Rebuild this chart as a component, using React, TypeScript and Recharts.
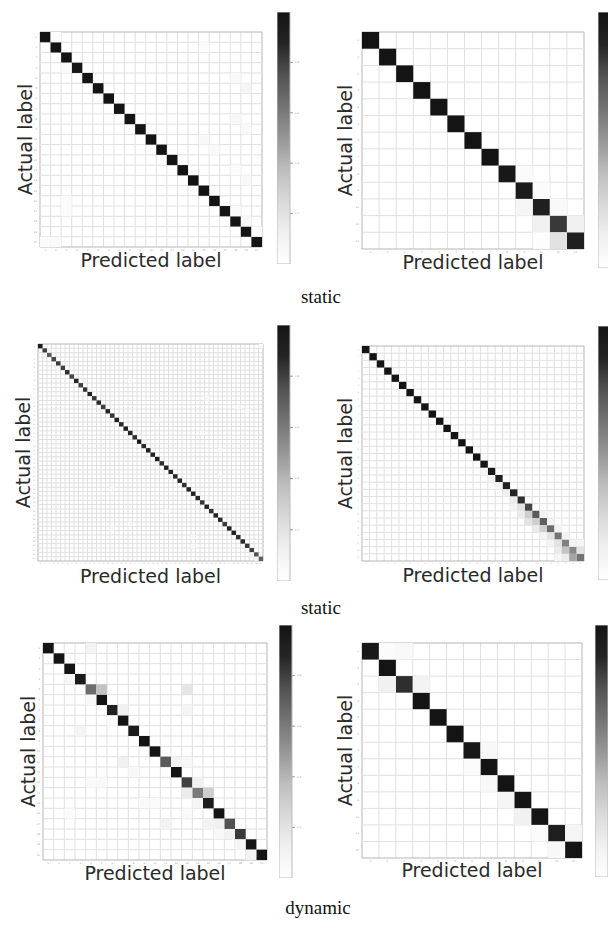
import React from "react";
import { ScatterChart, Scatter, XAxis, YAxis, ReferenceLine, BarChart, Bar } from "recharts";

type Off = [number, number, number]; // [row, col, value]

// top-left, 21 classes
const tlDiag = [1, 1, 1, 0.98, 1, 1, 1, 1, 1, 0.99, 1, 1, 1, 1, 1, 1, 1, 1, 1, 1, 1];
const tlOff: Off[] = [
  [0, 1, 0.03], [1, 15, 0.03], [3, 2, 0.05], [4, 18, 0.05], [5, 19, 0.08], [8, 18, 0.06],
  [9, 19, 0.05], [10, 15, 0.06], [11, 16, 0.05], [13, 18, 0.03], [14, 19, 0.05],
  [16, 2, 0.03], [17, 2, 0.03], [17, 18, 0.04], [18, 19, 0.05], [19, 20, 0.02],
  [20, 0, 0.03], [20, 1, 0.04],
];

// top-right, 13 classes
const trDiag = [1, 1, 1, 1, 1, 1, 1, 1, 0.97, 0.95, 0.92, 0.82, 0.92];
const trOff: Off[] = [
  [8, 9, 0.03], [9, 10, 0.03], [10, 9, 0.08], [10, 11, 0.05], [11, 10, 0.12],
  [11, 12, 0.12], [12, 10, 0.02], [12, 11, 0.2],
];

// middle-left, 50 classes
const mlDiag = [
  0.95, 0.8, 0.72, 0.78, 0.82, 0.8, 0.85, 0.78, 0.88, 0.8, 0.84, 0.9, 0.82, 0.86, 0.8, 0.88, 0.84,
  0.9, 0.86, 0.92, 0.88, 0.85, 0.98, 0.86, 0.9, 0.88, 0.92, 0.85, 0.9, 0.88, 0.86, 0.9, 0.84,
  0.88, 0.9, 0.86, 0.82, 0.88, 0.84, 0.9, 0.86, 0.82, 0.88, 0.9, 0.84, 0.86, 0.82, 0.8, 0.75, 0.7,
];
const mlOff: Off[] = [
  [0, 49, 0.04], [1, 2, 0.1], [2, 1, 0.1], [5, 4, 0.08], [8, 20, 0.04], [10, 11, 0.08],
  [12, 37, 0.04], [14, 44, 0.04], [15, 46, 0.04], [17, 26, 0.05], [20, 36, 0.03],
  [22, 23, 0.1], [24, 40, 0.04], [30, 40, 0.03], [30, 29, 0.08], [33, 16, 0.04],
  [35, 44, 0.04], [38, 28, 0.04], [41, 20, 0.05], [42, 16, 0.04], [44, 34, 0.05],
  [46, 34, 0.04], [48, 47, 0.1], [49, 48, 0.12],
];

// middle-right, 30 classes
const mrDiag = [
  1, 1, 1, 1, 1, 1, 1, 1, 1, 1, 1, 1, 1, 1, 1, 1, 0.98,
  0.96, 0.92, 0.9, 0.88, 0.85, 0.78, 0.72, 0.7, 0.65, 0.62, 0.58, 0.55, 0.62,
];
const mrOff: Off[] = [
  [17, 16, 0.08], [18, 17, 0.1], [19, 18, 0.1], [20, 19, 0.12], [21, 20, 0.15],
  [22, 20, 0.1], [22, 21, 0.2], [23, 21, 0.15], [23, 22, 0.3], [23, 24, 0.1],
  [24, 22, 0.2], [24, 23, 0.3], [24, 25, 0.1], [25, 23, 0.15], [25, 24, 0.3], [25, 26, 0.1],
  [26, 24, 0.1], [26, 25, 0.2], [26, 27, 0.1], [27, 25, 0.1], [27, 26, 0.2], [27, 28, 0.1],
  [27, 29, 0.08], [28, 26, 0.15], [28, 27, 0.35], [28, 29, 0.2], [29, 26, 0.08],
  [29, 27, 0.15], [29, 28, 0.45],
];

// bottom-left, 21 classes
const blDiag = [1, 1, 1, 0.95, 0.65, 1, 0.9, 1, 0.95, 1, 1, 0.72, 1, 0.8, 0.6, 0.95, 1, 0.75, 0.82, 1, 1];
const blOff: Off[] = [
  [0, 4, 0.1], [3, 2, 0.08], [4, 5, 0.35], [4, 13, 0.18], [5, 4, 0.06], [6, 7, 0.12],
  [6, 13, 0.08], [7, 6, 0.03], [8, 3, 0.08], [11, 7, 0.12], [11, 12, 0.1], [11, 13, 0.06],
  [12, 8, 0.06], [13, 4, 0.04], [13, 5, 0.05], [13, 14, 0.12], [14, 13, 0.15], [14, 15, 0.3],
  [15, 9, 0.04], [15, 10, 0.04], [15, 14, 0.08], [16, 2, 0.03], [16, 13, 0.04],
  [17, 11, 0.1], [17, 15, 0.1], [17, 16, 0.12], [18, 16, 0.06], [18, 17, 0.1],
  [19, 18, 0.08], [20, 19, 0.1],
];

// bottom-right, 13 classes
const brDiag = [0.97, 1, 0.85, 1, 1, 1, 0.97, 1, 1, 1, 1, 0.93, 1];
const brOff: Off[] = [
  [0, 1, 0.03], [0, 2, 0.05], [2, 1, 0.12], [2, 3, 0.1], [6, 7, 0.06], [7, 6, 0.03],
  [8, 7, 0.06], [9, 8, 0.08], [10, 9, 0.12], [11, 10, 0.04], [11, 12, 0.08], [12, 11, 0.06],
];

const captions = ["static", "static", "dynamic"];
const cbTicks = [0.2, 0.4, 0.6, 0.8];

// Greys colormap
const GREYS = ["#ffffff", "#f0f0f0", "#d9d9d9", "#bdbdbd", "#969696", "#737373", "#525252", "#252525", "#141414"];

function greys(v: number) {
  const t = Math.max(0, Math.min(1, v)) * (GREYS.length - 1);
  const i = Math.min(Math.floor(t), GREYS.length - 2);
  const f = t - i;
  const a = parseInt(GREYS[i].slice(1, 3), 16);
  const b = parseInt(GREYS[i + 1].slice(1, 3), 16);
  const g = Math.round(a + (b - a) * f);
  return `rgb(${g},${g},${g})`;
}

const FONT = "DejaVu Sans, sans-serif";

type Box = { x1: number; x2: number; y1: number; y2: number; ax: number; pb: number };

function Matrix({ diag, off, box }: { diag: number[]; off: Off[]; box: Box }) {
  const n = diag.length;
  const { x1, x2, y1, y2, ax, pb } = box;
  const L = ax - 12;
  const yw = x1 - L;
  const mr = 3;
  const mt = 3;
  const T = y1 - mt;
  const xh = pb - y2 + 6;
  const W = x2 - L + mr;
  const H = y2 - T + xh;
  const cw = (x2 - x1) / n;
  const ch = (y2 - y1) / n;

  const data = [
    ...diag.map((v, i) => ({ x: i + 0.5, y: i + 0.5, v })),
    ...off.map(([r, c, v]) => ({ x: c + 0.5, y: r + 0.5, v })),
  ];
  const centers = diag.map((_, i) => i + 0.5);
  const bounds = [0, ...diag.map((_, i) => i + 1)];
  const tick = { fontSize: n >= 30 ? 1.6 : 2.5, fill: "#999", fontFamily: FONT };

  return (
    <div style={{ position: "absolute", left: L, top: T }}>
      <ScatterChart width={W} height={H} margin={{ top: mt, right: mr, left: 0, bottom: 0 }}>
        <XAxis
          type="number"
          dataKey="x"
          domain={[0, n]}
          ticks={centers}
          interval={0}
          tickFormatter={(t: number) => String(Math.floor(t))}
          height={xh}
          tick={tick}
          tickSize={0}
          tickLine={false}
          axisLine={false}
          label={{ value: "Predicted label", position: "insideBottom", offset: 6, fontSize: 19, fill: "#2a2a2a", fontFamily: FONT }}
        />
        <YAxis
          type="number"
          dataKey="y"
          domain={[0, n]}
          reversed
          ticks={centers}
          interval={0}
          tickFormatter={(t: number) => String(Math.floor(t))}
          width={yw}
          tick={tick}
          tickSize={1}
          tickLine={false}
          axisLine={false}
          label={{ value: "Actual label", angle: -90, position: "insideLeft", offset: 12, fontSize: 19, fill: "#2a2a2a", fontFamily: FONT, style: { textAnchor: "middle" } }}
        />
        {bounds.map((k) => (
          <ReferenceLine key={"v" + k} x={k} stroke={k === 0 || k === n ? "#b5b5b5" : "#e0e0e0"} strokeWidth={1} />
        ))}
        {bounds.map((k) => (
          <ReferenceLine key={"h" + k} y={k} stroke={k === 0 || k === n ? "#b5b5b5" : "#e0e0e0"} strokeWidth={1} />
        ))}
        <Scatter
          data={data}
          isAnimationActive={false}
          shape={(p: any) => (
            <rect x={p.cx - cw / 2} y={p.cy - ch / 2} width={cw} height={ch} fill={greys(p.payload.v)} />
          )}
        />
      </ScatterChart>
    </div>
  );
}

type CB = { x: number; y: number; w: number; h: number };

function ColorBar({ cb, id }: { cb: CB; id: string }) {
  return (
    <div style={{ position: "absolute", left: cb.x, top: cb.y }}>
      <BarChart width={cb.w + 12} height={cb.h} data={[{ name: "c", v: 1 }]} margin={{ top: 0, right: 0, left: 0, bottom: 0 }} barCategoryGap={0}>
        <defs>
          <linearGradient id={id} x1="0" y1="0" x2="0" y2="1">
            {GREYS.map((c, i) => (
              <stop key={i} offset={`${(i / (GREYS.length - 1)) * 100}%`} stopColor={GREYS[GREYS.length - 1 - i]} />
            ))}
          </linearGradient>
        </defs>
        <XAxis dataKey="name" hide />
        <YAxis
          orientation="right"
          type="number"
          domain={[0, 1]}
          ticks={cbTicks}
          width={12}
          tickSize={3}
          tick={{ fontSize: 2.5, fill: "#999", fontFamily: FONT }}
          tickLine={{ stroke: "#999" }}
          axisLine={false}
        />
        <Bar dataKey="v" fill={`url(#${id})`} stroke="#bbb" isAnimationActive={false} />
      </BarChart>
    </div>
  );
}

const capStyle: React.CSSProperties = {
  position: "absolute",
  width: 140,
  textAlign: "center",
  fontFamily: "Liberation Serif, Times New Roman, serif",
  fontSize: 19,
  lineHeight: "19px",
  color: "#111",
};

export default function App() {
  return (
    <div style={{ position: "relative", width: 616, height: 944, margin: -8, overflow: "hidden", background: "#fff" }}>
      <Matrix diag={tlDiag} off={tlOff} box={{ x1: 40, x2: 262, y1: 32, y2: 247, ax: 25, pb: 267 }} />
      <ColorBar cb={{ x: 277, y: 12, w: 13, h: 252 }} id="cb1" />
      <Matrix diag={trDiag} off={trOff} box={{ x1: 362, x2: 584, y1: 32, y2: 249, ax: 345, pb: 269 }} />
      <ColorBar cb={{ x: 598, y: 12, w: 14, h: 256 }} id="cb2" />
      <div style={{ ...capStyle, left: 321 - 70, top: 303 - 16 }}>{captions[0]}</div>

      <Matrix diag={mlDiag} off={mlOff} box={{ x1: 38, x2: 263, y1: 344, y2: 561, ax: 23, pb: 583 }} />
      <ColorBar cb={{ x: 277, y: 325, w: 13, h: 256 }} id="cb3" />
      <Matrix diag={mrDiag} off={mrOff} box={{ x1: 362, x2: 584, y1: 346, y2: 561, ax: 345, pb: 582 }} />
      <ColorBar cb={{ x: 598, y: 326, w: 14, h: 254 }} id="cb4" />
      <div style={{ ...capStyle, left: 321 - 70, top: 614 - 16 }}>{captions[1]}</div>

      <Matrix diag={blDiag} off={blOff} box={{ x1: 43, x2: 267, y1: 643, y2: 860, ax: 28, pb: 880 }} />
      <ColorBar cb={{ x: 279, y: 625, w: 13, h: 253 }} id="cb5" />
      <Matrix diag={brDiag} off={brOff} box={{ x1: 362, x2: 582, y1: 643, y2: 858, ax: 345, pb: 877 }} />
      <ColorBar cb={{ x: 595, y: 625, w: 13, h: 252 }} id="cb6" />
      <div style={{ ...capStyle, left: 318 - 70, top: 914 - 16 }}>{captions[2]}</div>
    </div>
  );
}
